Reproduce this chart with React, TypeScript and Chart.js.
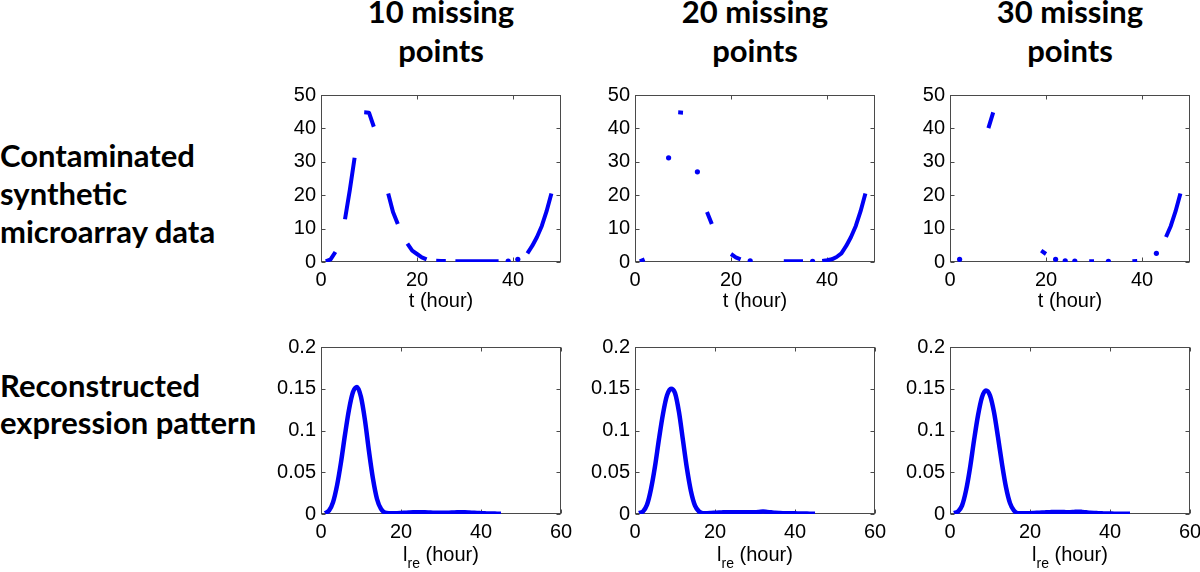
import React, { useEffect, useRef } from "react";
import { Chart, registerables } from "chart.js";

Chart.register(...registerables);

// ---------------- data ----------------
const hours = [1, 2, 3, 4, 5, 6, 7, 8, 9, 10, 11, 12, 13, 14, 15, 16, 17, 18, 19, 20, 21, 22, 23, 24, 25, 26, 27, 28, 29, 30, 31, 32, 33, 34, 35, 36, 37, 38, 39, 40, 41, 42, 43, 44, 45, 46, 47, 48];

const contaminated10 = [0.2, 0.8, 3, null, 12.8, 21.5, 31.2, null, 44.8, 44.7, 40.5, null, null, 20.5, 15, 11.4, null, 5.5, 3.4, 2.4, 1.4, 0.8, null, 0.35, 0.3, 0.3, null, 0.2, 0.2, 0.2, 0.2, 0.2, 0.2, 0.2, 0.2, 0.2, 0.2, null, 0.3, null, 0.8, null, 2.6, 4.8, 7.5, 10.8, 15.2, 20.5];
const contaminated20 = [0.2, 0.8, null, null, null, null, 31.2, null, 44.8, 44.7, null, null, 27, null, 15, 11.4, null, null, null, 2.4, 1.4, 0.8, null, 0.35, null, null, null, null, null, null, 0.2, 0.2, 0.2, 0.2, 0.2, null, 0.2, null, 0.3, 0.5, 0.8, 1.5, 2.6, 4.8, 7.5, 10.8, 15.2, 20.5];
const contaminated30 = [null, 0.8, null, null, null, null, null, 40.1, 44.8, null, null, null, null, null, null, null, null, null, 3.4, 2.4, null, 0.8, null, 0.35, null, 0.3, null, null, 0.2, 0.2, null, null, 0.2, null, null, null, null, 0.2, 0.3, null, null, null, 2.6, null, 7.5, 10.8, 15.2, 20.5];

const reconHours = [1, 2, 3, 4, 5, 6, 7, 8, 9, 10, 11, 12, 13, 14, 15, 16, 17, 18, 19, 20, 21, 22, 23, 24, 25, 26, 27, 28, 29, 30, 31, 32, 33, 34, 35, 36, 37, 38, 39, 40, 41, 42, 43, 44, 45];

const reconstructed10 = [0.001, 0.004, 0.014, 0.034, 0.062, 0.095, 0.125, 0.146, 0.152, 0.14, 0.112, 0.075, 0.042, 0.018, 0.006, 0.0015, 0.001, 0.001, 0.001, 0.0012, 0.0015, 0.0018, 0.002, 0.002, 0.002, 0.002, 0.0018, 0.0015, 0.0015, 0.0015, 0.0015, 0.0016, 0.0018, 0.002, 0.002, 0.002, 0.0018, 0.0015, 0.0012, 0.001, 0.0008, 0.0006, 0.0005, 0.0004, 0.0003];
const reconstructed20 = [0.001, 0.003, 0.011, 0.03, 0.057, 0.09, 0.12, 0.142, 0.15, 0.145, 0.122, 0.088, 0.054, 0.027, 0.01, 0.003, 0.001, 0.001, 0.0012, 0.0015, 0.0018, 0.002, 0.0022, 0.0022, 0.002, 0.002, 0.0022, 0.0022, 0.0022, 0.0022, 0.0025, 0.003, 0.0025, 0.002, 0.0015, 0.0012, 0.001, 0.001, 0.0008, 0.0008, 0.0006, 0.0005, 0.0005, 0.0004, 0.0003];
const reconstructed30 = [0.001, 0.003, 0.01, 0.028, 0.055, 0.088, 0.118, 0.14, 0.148, 0.142, 0.122, 0.092, 0.06, 0.032, 0.013, 0.004, 0.001, 0.001, 0.001, 0.001, 0.0012, 0.0015, 0.0018, 0.002, 0.0022, 0.0025, 0.0025, 0.0025, 0.0022, 0.0022, 0.0025, 0.0028, 0.0025, 0.002, 0.0015, 0.0012, 0.001, 0.0008, 0.0006, 0.0005, 0.0004, 0.0003, 0.0003, 0.0002, 0.0002];

const columnTitles = [["10 missing", "points"], ["20 missing", "points"], ["30 missing", "points"]];
const rowLabels = [["Contaminated", "synthetic", "microarray data"], ["Reconstructed", "expression pattern"]];

const topXTicks = [0, 20, 40];
const topYTicks = [0, 10, 20, 30, 40, 50];
const topYLabels = ["0", "10", "20", "30", "40", "50"];
const bottomXTicks = [0, 20, 40, 60];
const bottomYTicks = [0, 0.05, 0.1, 0.15, 0.2];
const bottomYLabels = ["0", "0.05", "0.1", "0.15", "0.2"];

// ---------------- layout ----------------
const BLUE = "#0000f5";
const TICK_FONT = { family: "'Liberation Sans', Arial, sans-serif", size: 20 };
const PLOT_W = 240;
const PLOT_H = 167;
const Y_W = 72;
const X_H = 58;
const PAD_T = 15;
const PAD_R = 24;
const COL_LEFT = [321, 635, 950];
const ROW_TOP = [95, 347];

const boxPlugin = {
  id: "matlabBox",
  beforeDatasetsDraw(chart: any) {
    const { ctx, chartArea: a } = chart;
    const xs = chart.scales.x;
    const ys = chart.scales.y;
    ctx.save();
    ctx.strokeStyle = "#4a4a4a";
    ctx.lineWidth = 1;
    const l = Math.round(a.left) + 0.5;
    const r = Math.round(a.right) - 0.5;
    const t = Math.round(a.top) + 0.5;
    const b = Math.round(a.bottom) - 0.5;
    ctx.strokeRect(l, t, r - l, b - t);
    ctx.beginPath();
    const L = 4;
    for (const tk of xs.ticks) {
      const x = Math.round(xs.getPixelForValue(tk.value)) + 0.5;
      ctx.moveTo(x, b);
      ctx.lineTo(x, b - L);
      ctx.moveTo(x, t);
      ctx.lineTo(x, t + L);
    }
    for (const tk of ys.ticks) {
      const y = Math.round(ys.getPixelForValue(tk.value)) + 0.5;
      ctx.moveTo(l, y);
      ctx.lineTo(l + L, y);
      ctx.moveTo(r, y);
      ctx.lineTo(r - L, y);
    }
    ctx.stroke();
    ctx.restore();
  },
  afterDraw(chart: any, _args: any, opts: any) {
    const { ctx, chartArea: a } = chart;
    const cx = (a.left + a.right) / 2;
    const base = a.bottom + (opts.sub ? 47 : 45);
    ctx.save();
    ctx.fillStyle = "#000";
    ctx.textBaseline = "alphabetic";
    ctx.textAlign = "left";
    const main = "20px 'Liberation Sans', Arial, sans-serif";
    const small = "14px 'Liberation Sans', Arial, sans-serif";
    if (opts.sub) {
      ctx.font = main;
      const w1 = ctx.measureText(opts.title).width;
      const w3 = ctx.measureText(opts.rest).width;
      ctx.font = small;
      const w2 = ctx.measureText(opts.sub).width;
      let x = cx - (w1 + w2 + w3) / 2;
      ctx.font = main;
      ctx.fillText(opts.title, x, base);
      x += w1;
      ctx.font = small;
      ctx.fillText(opts.sub, x, base + 7);
      x += w2;
      ctx.font = main;
      ctx.fillText(opts.rest, x, base);
    } else {
      ctx.font = main;
      ctx.textAlign = "center";
      ctx.fillText(opts.title, cx, base);
    }
    ctx.restore();
  },
};

type Props = {
  plotLeft: number;
  plotTop: number;
  xs: number[];
  ys: (number | null)[];
  xMax: number;
  yMax: number;
  xTicks: number[];
  yTicks: number[];
  yLabels: string[];
  title: string;
  sub?: string;
  rest?: string;
  smooth?: boolean;
};

function MiniChart(p: Props) {
  const ref = useRef<HTMLCanvasElement>(null);
  const cw = Y_W + PLOT_W + PAD_R;
  const chh = PAD_T + PLOT_H + X_H;
  useEffect(() => {
    const canvas = ref.current!;
    const ys = p.ys;
    const chart = new Chart(canvas, {
      type: "line",
      data: {
        datasets: [
          {
            data: p.xs.map((x, i) => ({ x, y: ys[i] })) as any,
            borderColor: BLUE,
            backgroundColor: BLUE,
            borderWidth: p.smooth ? 4.5 : 4,
            borderCapStyle: "butt",
            borderJoinStyle: "round",
            pointBackgroundColor: BLUE,
            pointBorderWidth: 0,
            pointHoverRadius: 0,
            pointRadius: (ctx: any) => {
              const i = ctx.dataIndex;
              if (ys[i] == null) return 0;
              const prev = i > 0 ? ys[i - 1] : null;
              const next = i < ys.length - 1 ? ys[i + 1] : null;
              return prev == null && next == null ? 2.6 : 0;
            },
            spanGaps: false,
            fill: false,
            tension: p.smooth ? 0.4 : 0,
            cubicInterpolationMode: p.smooth ? "monotone" : "default",
          } as any,
        ],
      },
      options: {
        responsive: false,
        animation: false,
        events: [],
        layout: { padding: { top: PAD_T, right: PAD_R, left: 0, bottom: 0 } },
        plugins: {
          legend: { display: false },
          tooltip: { enabled: false },
          matlabBox: { title: p.title, sub: p.sub, rest: p.rest },
        } as any,
        scales: {
          x: {
            type: "linear",
            min: 0,
            max: p.xMax,
            afterBuildTicks: (s: any) => {
              s.ticks = p.xTicks.map((v) => ({ value: v }));
            },
            afterFit: (s: any) => {
              s.height = X_H;
              s.paddingLeft = 0;
              s.paddingRight = 0;
            },
            grid: { display: false, drawTicks: false },
            border: { display: false },
            ticks: {
              font: TICK_FONT,
              color: "#000",
              padding: 6,
              maxRotation: 0,
              autoSkip: false,
              callback: (v: any) => String(v),
            },
          },
          y: {
            type: "linear",
            min: 0,
            max: p.yMax,
            afterBuildTicks: (s: any) => {
              s.ticks = p.yTicks.map((v) => ({ value: v }));
            },
            afterFit: (s: any) => {
              s.width = Y_W;
              s.paddingTop = 0;
              s.paddingBottom = 0;
            },
            grid: { display: false, drawTicks: false },
            border: { display: false },
            ticks: {
              font: TICK_FONT,
              color: "#000",
              padding: 5,
              autoSkip: false,
              callback: (v: any) => {
                const idx = p.yTicks.findIndex((t) => Math.abs(t - v) < 1e-9);
                return idx >= 0 ? p.yLabels[idx] : "";
              },
            },
          },
        },
      },
      plugins: [boxPlugin as any],
    });
    return () => chart.destroy();
  }, []);
  return (
    <canvas
      ref={ref}
      width={cw}
      height={chh}
      style={{
        position: "absolute",
        left: p.plotLeft - Y_W,
        top: p.plotTop - PAD_T,
        width: cw,
        height: chh,
      }}
    />
  );
}

const labelFont: React.CSSProperties = {
  position: "absolute",
  fontFamily: "Lato, 'Open Sans', sans-serif",
  fontWeight: 700,
  fontSize: 31,
  color: "#000",
  whiteSpace: "nowrap",
};

export default function App() {
  const topSeries = [contaminated10, contaminated20, contaminated30];
  const bottomSeries = [reconstructed10, reconstructed20, reconstructed30];
  return (
    <div
      style={{
        position: "fixed",
        left: 0,
        top: 0,
        width: 1200,
        height: 572,
        background: "#fff",
        overflow: "hidden",
      }}
    >
      {columnTitles.map((lines, i) => (
        <div
          key={"ct" + i}
          style={{
            ...labelFont,
            left: COL_LEFT[i] + PLOT_W / 2 - 150,
            width: 300,
            top: -8,
            lineHeight: "39px",
            textAlign: "center",
          }}
        >
          {lines.map((l, j) => (
            <div key={j}>{l}</div>
          ))}
        </div>
      ))}
      <div style={{ ...labelFont, left: 0, top: 136, lineHeight: "38px" }}>
        {rowLabels[0].map((l, j) => (
          <div key={j}>{l}</div>
        ))}
      </div>
      <div style={{ ...labelFont, left: 0, top: 367, lineHeight: "37px" }}>
        {rowLabels[1].map((l, j) => (
          <div key={j}>{l}</div>
        ))}
      </div>
      {topSeries.map((ys, i) => (
        <MiniChart
          key={"top" + i}
          plotLeft={COL_LEFT[i]}
          plotTop={ROW_TOP[0]}
          xs={hours}
          ys={ys}
          xMax={50}
          yMax={50}
          xTicks={topXTicks}
          yTicks={topYTicks}
          yLabels={topYLabels}
          title="t (hour)"
        />
      ))}
      {bottomSeries.map((ys, i) => (
        <MiniChart
          key={"bot" + i}
          plotLeft={COL_LEFT[i]}
          plotTop={ROW_TOP[1]}
          xs={reconHours}
          ys={ys}
          xMax={60}
          yMax={0.2}
          xTicks={bottomXTicks}
          yTicks={bottomYTicks}
          yLabels={bottomYLabels}
          title="l"
          sub="re"
          rest=" (hour)"
          smooth
        />
      ))}
    </div>
  );
}
